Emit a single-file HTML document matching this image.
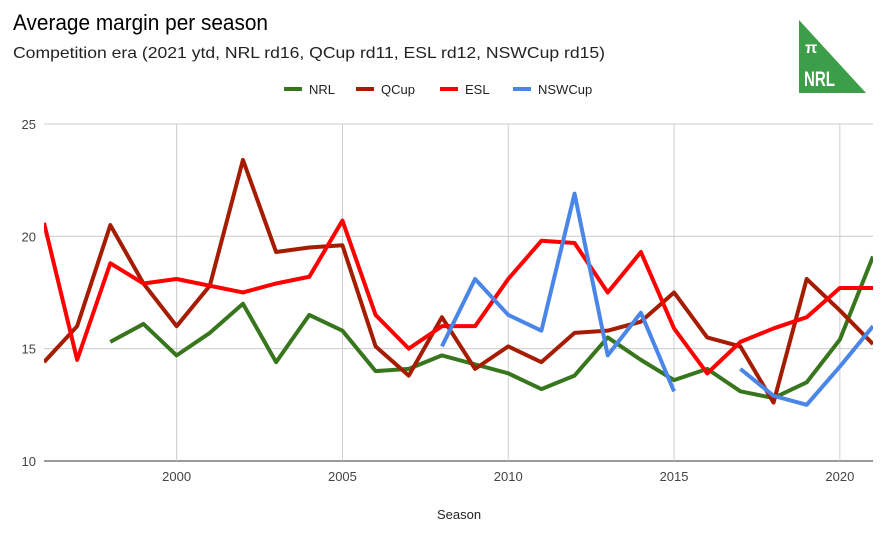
<!DOCTYPE html>
<html><head><meta charset="utf-8"><style>
body{margin:0;background:#fff;font-family:"Liberation Sans",Arial,sans-serif}
</style></head><body>
<svg id="c" width="885" height="532" xmlns="http://www.w3.org/2000/svg" font-family="Liberation Sans, Arial, sans-serif">
<rect width="885" height="532" fill="#fff"/>
<text x="13" y="30" font-size="22" fill="#000" textLength="255" lengthAdjust="spacingAndGlyphs">Average margin per season</text>
<text x="13" y="58" font-size="16" fill="#222" textLength="592" lengthAdjust="spacingAndGlyphs">Competition era (2021 ytd, NRL rd16, QCup rd11, ESL rd12, NSWCup rd15)</text>
<polygon points="799,20 866,93 799,93" fill="#3c9e48"/>
<text x="805" y="53" font-size="16" fill="#fff" font-weight="bold">π</text>
<text x="804" y="86" font-size="21" fill="#fff" font-weight="bold" textLength="31" lengthAdjust="spacingAndGlyphs">NRL</text>
<g font-size="13" fill="#222">
<line x1="284" y1="89" x2="302" y2="89" stroke="#38761d" stroke-width="4"/><text x="309" y="94">NRL</text>
<line x1="356" y1="89" x2="374" y2="89" stroke="#a61c00" stroke-width="4"/><text x="381" y="94">QCup</text>
<line x1="440" y1="89" x2="458" y2="89" stroke="#ff0000" stroke-width="4"/><text x="465" y="94">ESL</text>
<line x1="513" y1="89" x2="531" y2="89" stroke="#4a86e8" stroke-width="4"/><text x="538" y="94">NSWCup</text>
</g>
<g id="grid" stroke="#ccc" stroke-width="1"></g>
<g id="lbl" font-size="13" fill="#444"></g>
<g id="lines" fill="none" stroke-width="4" stroke-linejoin="round"></g>
<text x="459" y="519" font-size="13" fill="#222" text-anchor="middle">Season</text>
</svg>
<script>
var NS="http://www.w3.org/2000/svg";
function X(y){return 44+(y-1996)*33.16;}
function Y(v){return 461-(v-10)*22.47;}
function el(t,a,p,txt){var e=document.createElementNS(NS,t);for(var k in a)e.setAttribute(k,a[k]);if(txt!=null)e.textContent=txt;document.getElementById(p).appendChild(e);}
[10,15,20,25].forEach(function(v){el('line',{x1:44,x2:873,y1:Y(v),y2:Y(v),stroke:v==10?'#333':'#ccc'},'grid');el('text',{x:36,y:Y(v)+5,'text-anchor':'end'},'lbl',v);});
[2000,2005,2010,2015,2020].forEach(function(y){el('line',{x1:X(y),x2:X(y),y1:124,y2:461},'grid');el('text',{x:X(y),y:481,'text-anchor':'middle'},'lbl',y);});
var S=[
["#38761d",[[1998,[15.3,16.1,14.7,15.7,17.0,14.4,16.5,15.8,14.0,14.1,14.7,14.3,13.9,13.2,13.8,15.5,14.5,13.6,14.1,13.1,12.8,13.5,15.4,19.1]]]],
["#a61c00",[[1996,[14.4,16.0,20.5,17.9,16.0,17.8,23.4,19.3,19.5,19.6,15.1,13.8,16.4,14.1,15.1,14.4,15.7,15.8,16.2,17.5,15.5,15.1,12.6,18.1,16.7,15.2]]]],
["#ff0000",[[1996,[20.6,14.5,18.8,17.9,18.1,17.8,17.5,17.9,18.2,20.7,16.5,15.0,16.0,16.0,18.1,19.8,19.7,17.5,19.3,15.9,13.9,15.3,15.9,16.4,17.7,17.7]]]],
["#4a86e8",[[2008,[15.1,18.1,16.5,15.8,21.9,14.7,16.6,13.1]],[2017,[14.1,12.9,12.5,14.2,16.0]]]]
];
el('clipPath',{id:'cp'},'lines');
var r=document.createElementNS(NS,'rect');r.setAttribute('x',44);r.setAttribute('y',100);r.setAttribute('width',829);r.setAttribute('height',380);document.getElementById('cp').appendChild(r);
S.forEach(function(s){s[1].forEach(function(seg){var p=seg[1].map(function(v,i){return X(seg[0]+i)+','+Y(v);}).join(' ');el('polyline',{points:p,stroke:s[0],'clip-path':'url(#cp)'},'lines');});});
</script>
</body></html>
